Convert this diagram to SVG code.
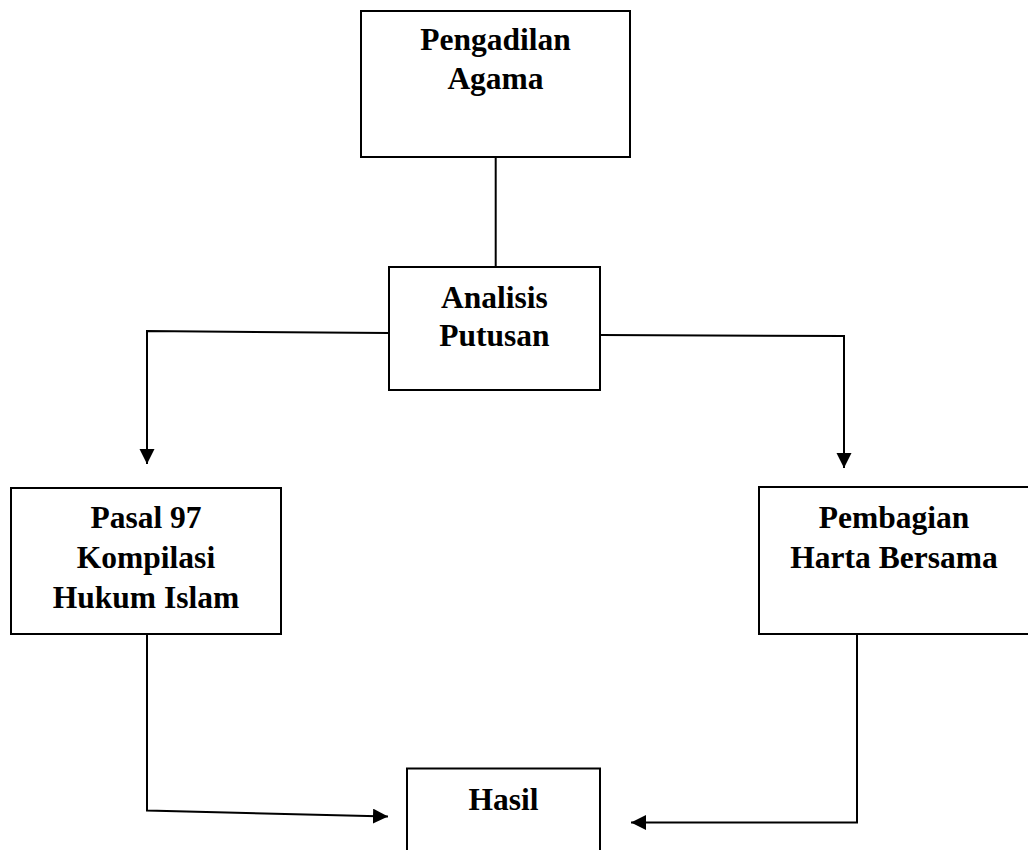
<svg xmlns="http://www.w3.org/2000/svg" width="1028" height="850" viewBox="0 0 1028 850">
<style>
.box{fill:#fff;stroke:#000;stroke-width:2}
.lbl{font-family:"Liberation Serif","Times New Roman",serif;font-weight:bold;font-size:31.5px;fill:#000;text-anchor:middle}
.con{fill:none;stroke:#000;stroke-width:2}
</style>
<defs>
<marker id="arr" markerUnits="userSpaceOnUse" markerWidth="16" markerHeight="16" refX="15" refY="7.5" orient="auto">
<path d="M0,0 L15,7.5 L0,15 z" fill="#000"/>
</marker>
</defs>
<rect width="1028" height="850" fill="#fff"/>
<g id="connectors">
<path class="con" d="M495.7,157 L495.7,267"/>
<path class="con" d="M389,333 L147,331 L147,464" marker-end="url(#arr)"/>
<path class="con" d="M600,335 L844,336 L844,468" marker-end="url(#arr)"/>
<path class="con" d="M147,634 L147,810.5 L388,816.5" marker-end="url(#arr)"/>
<path class="con" d="M857,634 L857,822.5 L631,822.5" marker-end="url(#arr)"/>
</g>
<g id="pengadilan">
<rect class="box" x="361" y="11" width="269" height="146"/>
<text class="lbl" x="495.5" y="50">Pengadilan</text>
<text class="lbl" x="495.5" y="89">Agama</text>
</g>
<g id="analisis">
<rect class="box" x="389" y="267" width="211" height="123"/>
<text class="lbl" x="494.5" y="307.5">Analisis</text>
<text class="lbl" x="494.5" y="346">Putusan</text>
</g>
<g id="pasal">
<rect class="box" x="11" y="488" width="270" height="146"/>
<text class="lbl" x="146" y="528">Pasal 97</text>
<text class="lbl" x="146" y="567.5">Kompilasi</text>
<text class="lbl" x="146" y="607.5">Hukum Islam</text>
</g>
<g id="pembagian">
<rect class="box" x="759" y="487" width="271" height="147"/>
<text class="lbl" x="894" y="527.5">Pembagian</text>
<text class="lbl" x="894" y="568">Harta Bersama</text>
</g>
<g id="hasil">
<rect class="box" x="407" y="768.5" width="193" height="100"/>
<text class="lbl" x="503.5" y="810">Hasil</text>
</g>
</svg>
